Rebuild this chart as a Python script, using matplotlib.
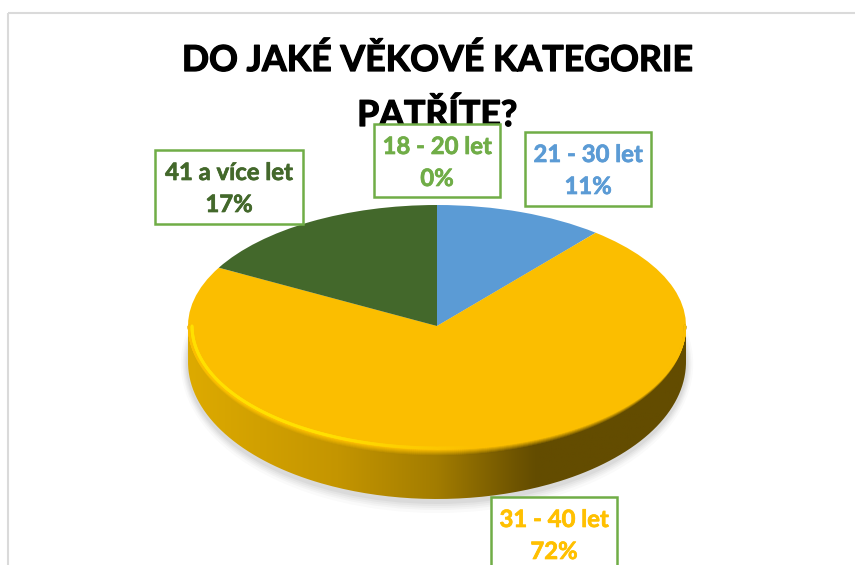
import numpy as np
from matplotlib import pyplot as plt
from matplotlib import patheffects as pe
from matplotlib.collections import LineCollection
from matplotlib.patches import Ellipse, Rectangle, PathPatch
from matplotlib.path import Path
from matplotlib.colors import LinearSegmentedColormap, to_rgb

plt.rcParams['font.family'] = ['Lato', 'DejaVu Sans']
plt.rcParams['font.weight'] = 'bold'

title_lines = ["DO JAKÉ VĚKOVÉ KATEGORIE", "PATŘÍTE?"]
categories = ["18 - 20 let", "21 - 30 let", "31 - 40 let", "41 a více let"]
values = [0, 11, 72, 17]
colors = ["#70AD47", "#5B9BD5", "#FBBE00", "#43682B"]
text_colors = ["#70AD47", "#5B9BD5", "#FFC000", "#43682B"]

W, H = 855, 565
cx, cy, rx, ry = 437, 326, 249, 121
side_cy, side_ry = 362, 137

fig = plt.figure(figsize=(W / 100, H / 100), dpi=100)
bg = fig.add_axes([0, 0, 1, 1])
bg.set_xlim(0, W)
bg.set_ylim(H, 0)
bg.axis("off")

# chart frame
bg.add_patch(Rectangle((8, 13), 860, 600, fill=False, ec="#DADADA", lw=1.5))

# soft shadow under the disc
for grow, a in zip([12, 9, 7, 5, 3], [0.04, 0.05, 0.06, 0.07, 0.09]):
    bg.add_patch(Ellipse((cx, side_cy + 2), 2 * (rx + grow * 0.6), 2 * (side_ry + grow), color="#808080", alpha=a, lw=0))

# side of the disc, gradient clipped to its outline
t = np.linspace(0, np.pi, 200)
side_x = np.r_[cx - rx, cx + rx * np.cos(t[::-1]), cx + rx]
side_y = np.r_[cy, side_cy + side_ry * np.sin(t[::-1]), cy]
side_path = Path(np.c_[side_x, side_y])
side_cmap = LinearSegmentedColormap.from_list("side", [(0, "#DDAA00"), (0.3, "#C49500"), (0.5, "#A27C00"), (0.66, "#6E5400"), (0.7, "#634C00"), (1, "#634C00")])
img = bg.imshow(np.linspace(0, 1, 256).reshape(1, -1), cmap=side_cmap, extent=(cx - rx, cx + rx, side_cy + side_ry + 2, cy), aspect="auto", zorder=2)
bg.set_xlim(0, W)
bg.set_ylim(H, 0)
img.set_clip_path(PathPatch(side_path, transform=bg.transData))

# pie, stretched into an ellipse by the axes box
pie_ax = fig.add_axes([(cx - rx) / W, 1 - (cy + ry) / H, 2 * rx / W, 2 * ry / H])
pie_ax.pie(values, colors=colors, startangle=90, counterclock=False, radius=1)
pie_ax.set_aspect("auto")
pie_ax.set_xlim(-1, 1)
pie_ax.set_ylim(-1, 1)
pie_ax.patch.set_alpha(0)

# bevel on the lower rim of the top face
over = fig.add_axes([0, 0, 1, 1])
over.set_xlim(0, W)
over.set_ylim(H, 0)
over.axis("off")

gold = np.array(to_rgb("#FBBE00"))
bright = np.array(to_rgb("#FFE000"))
a = np.linspace(0, np.pi, 400)


def rim(off, lw, cols, inset=1):
    x = cx + (rx - inset) * np.cos(a)
    y = cy + (ry + off) * np.sin(a)
    pts = np.c_[x, y]
    segs = np.stack([pts[:-1], pts[1:]], axis=1)
    lc = LineCollection(segs, colors=cols[:-1], linewidths=lw, capstyle="round")
    over.add_collection(lc)


side_cols = side_cmap((cx + rx * np.cos(a) - (cx - rx)) / (2 * rx))[:, :3]
for off in np.arange(8, -0.5, -1):
    mix = np.clip((off - 2) / 6, 0, 1)
    rim(off, 1.6, gold * (1 - mix) + side_cols * mix)

w = np.clip((a / np.pi - 0.45) / 0.2, 0, 1)[:, None]
rim(1, 2.2, gold * (1 - w) + bright * w, inset=4)

# title
for y, line in zip([60, 115], title_lines):
    over.text(437, y, line, ha="center", va="center", fontsize=25.7, color="black", zorder=3,
              path_effects=[pe.withStroke(linewidth=0.9, foreground="black")])

# data labels
boxes = [(374, 124, 126, 73), (525, 132, 126, 74), (491, 497, 126, 80), (155, 150, 148, 74)]
for (bx, by, bw, bh), cat, val, col in zip(boxes, categories, values, text_colors):
    stroke = [pe.withStroke(linewidth=0.5, foreground=col)]
    over.add_patch(Rectangle((bx, by), bw, bh, fc="white", ec="#70AD47", lw=1.8, zorder=5))
    over.text(bx + bw / 2, by + 22.5, cat, ha="center", va="center", fontsize=17.2, color=col, zorder=6, path_effects=stroke)
    over.text(bx + bw / 2, by + 54.5, f"{val}%", ha="center", va="center", fontsize=17.2, color=col, zorder=6, path_effects=stroke)

fig.savefig("out.png", dpi=100)
